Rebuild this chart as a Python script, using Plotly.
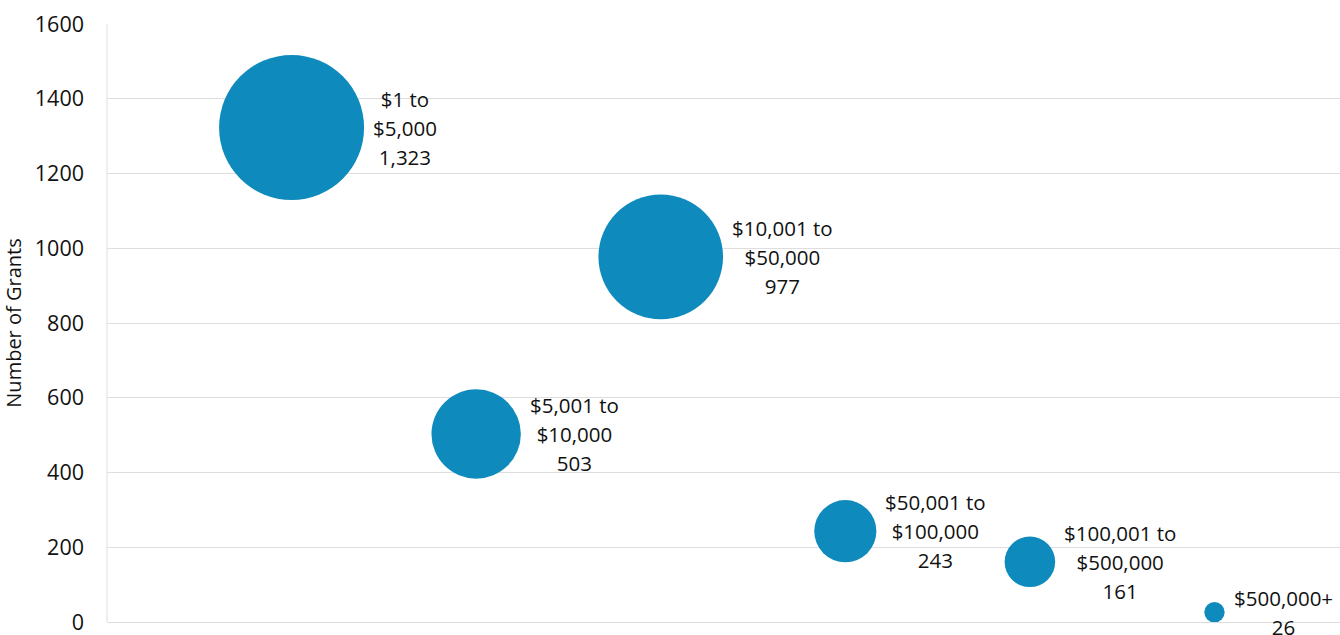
import math
import plotly.graph_objects as go

# Grant size bands and number of grants in each band
bands = ["$1 to<br>$5,000", "$5,001 to<br>$10,000", "$10,001 to<br>$50,000",
         "$50,001 to<br>$100,000", "$100,001 to<br>$500,000", "$500,000+"]
positions = [1, 2, 3, 4, 5, 6]
grants = [1323, 503, 977, 243, 161, 26]
y_ticks = [0, 200, 400, 600, 800, 1000, 1200, 1400, 1600]

BLUE = "#0e8bbc"
GRID = "#dedede"
INK = "#111111"
FONT = "Open Sans, Noto Sans, sans-serif"
MAX_DIAMETER = 145
sizeref = 2.0 * max(grants) / MAX_DIAMETER ** 2

fig = go.Figure(
    go.Scatter(
        x=positions,
        y=grants,
        mode="markers",
        marker=dict(size=grants, sizemode="area", sizeref=sizeref,
                    color=BLUE, line=dict(width=0), opacity=1),
        hoverinfo="skip",
        cliponaxis=False,
    )
)

# Labels sit just to the right of each bubble: band and formatted count
for xpos, band, n in zip(positions, bands, grants):
    radius = math.sqrt(n / 2.0 / sizeref)
    lines = band.split("<br>") + [f"{n:,}"]
    text = "<br>".join(f'<span style="font-size:20.5px">{ln}</span>' for ln in lines)
    fig.add_annotation(
        x=xpos, y=n, text=text, showarrow=False,
        xanchor="left", yanchor="middle", align="center",
        xshift=radius + 7,
        font=dict(family=FONT, size=22.3, color=INK),
    )

fig.update_layout(
    width=1340, height=635,
    margin=dict(l=107, r=0, t=24, b=13),
    paper_bgcolor="white", plot_bgcolor="white",
    showlegend=False,
    font=dict(family=FONT, color=INK),
    xaxis=dict(range=[0, 6.68], showticklabels=False, showgrid=False,
               zeroline=False, showline=True, linecolor=GRID, linewidth=1,
               mirror=False, ticks=""),
    yaxis=dict(range=[0, 1600], tickvals=y_ticks, showgrid=True,
               gridcolor=GRID, gridwidth=1, zeroline=False,
               showline=False, ticks="", ticklabelstandoff=22,
               ticklabeloverflow="allow",
               tickfont=dict(family=FONT, size=21.5, color=INK),
               title=dict(text="Number of Grants", standoff=16,
                          font=dict(family=FONT, size=20, color=INK))),
)

# Vertical axis line on the left edge of the plot area
fig.add_shape(type="line", xref="paper", yref="paper", x0=0, x1=0, y0=0, y1=1,
              line=dict(color=GRID, width=1), layer="below")

fig.write_html("out.html")
